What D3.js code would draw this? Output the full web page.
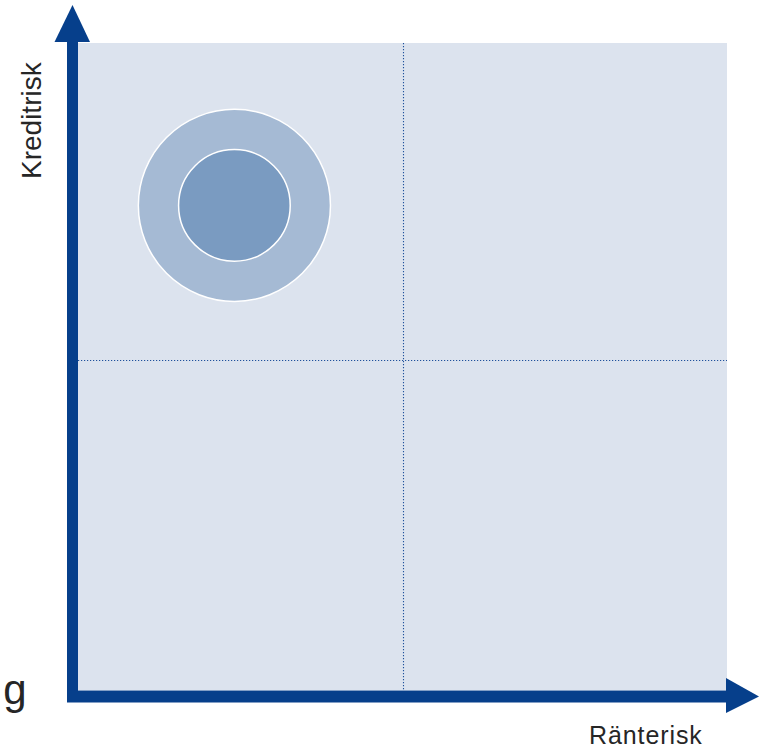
<!DOCTYPE html>
<html>
<head>
<meta charset="utf-8">
<script src="https://cdn.jsdelivr.net/npm/d3@7"></script>
<style>
  html, body { margin: 0; padding: 0; background: #ffffff; }
  svg { display: block; }
  text { font-family: "Liberation Sans", Arial, sans-serif; fill: #262626; }
</style>
</head>
<body>
<svg id="chart" width="759" height="750"></svg>
<script>
// ---- data ----
const xDomain = [0, 10];
const yDomain = [0, 10];
const xDividers = [5];
const yDividers = [5.1];
const bubbleX = [2.41];
const bubbleY = [7.49];
const bubbleOuterR = [1.48];
const bubbleInnerR = [0.86];
const xAxisLabel = "Ränterisk";
const yAxisLabel = "Kreditrisk";
const titleFragment = "g";

// ---- layout ----
const svg = d3.select("#chart");
const plot = { left: 78, right: 727, top: 43, bottom: 690 };
const x = d3.scaleLinear().domain(xDomain).range([plot.left, plot.right]);
const y = d3.scaleLinear().domain(yDomain).range([plot.bottom, plot.top]);
const r = d3.scaleLinear().domain([0, 10]).range([0, plot.right - plot.left]);

const axisColor = "#063f8b";

// background
svg.append("rect")
  .attr("x", x(xDomain[0])).attr("y", y(yDomain[1]))
  .attr("width", x(xDomain[1]) - x(xDomain[0]))
  .attr("height", y(yDomain[0]) - y(yDomain[1]))
  .attr("fill", "#dce3ee");

// dividers
svg.selectAll(".vdiv").data(xDividers).join("line")
  .attr("x1", d => Math.round(x(d)) + 0.5).attr("x2", d => Math.round(x(d)) + 0.5)
  .attr("y1", y(yDomain[1])).attr("y2", y(yDomain[0]))
  .attr("stroke", "#1f519c").attr("stroke-width", 1.1).attr("stroke-dasharray", "1.2,1.8");
svg.selectAll(".hdiv").data(yDividers).join("line")
  .attr("y1", d => Math.round(y(d)) + 0.5).attr("y2", d => Math.round(y(d)) + 0.5)
  .attr("x1", x(xDomain[0])).attr("x2", x(xDomain[1]))
  .attr("stroke", "#1f519c").attr("stroke-width", 1.1).attr("stroke-dasharray", "1.2,1.8");

// bubble
const bubbles = bubbleX.map((bx, i) => ({ x: bx, y: bubbleY[i], ro: bubbleOuterR[i], ri: bubbleInnerR[i] }));
svg.selectAll(".outer").data(bubbles).join("circle")
  .attr("cx", d => x(d.x)).attr("cy", d => y(d.y)).attr("r", d => r(d.ro))
  .attr("fill", "#a5bad4").attr("stroke", "#ffffff").attr("stroke-width", 1.5);
svg.selectAll(".inner").data(bubbles).join("circle")
  .attr("cx", d => x(d.x)).attr("cy", d => y(d.y)).attr("r", d => r(d.ri))
  .attr("fill", "#7a9bc1").attr("stroke", "#ffffff").attr("stroke-width", 1.5);

// axes (thick arrows)
const x0 = x(xDomain[0]);
const y0 = y(yDomain[0]);
svg.append("rect").attr("x", x0 - 11).attr("y", 41).attr("width", 11).attr("height", y0 + 12 - 41)
  .attr("fill", axisColor);
svg.append("rect").attr("x", x0 - 11).attr("y", y0 + 0.5).attr("width", 727 - (x0 - 11)).attr("height", 12)
  .attr("fill", axisColor);
svg.append("path")
  .attr("d", `M${x0 - 23.5},42 L${x0 - 5.5},5 L${x0 + 12},42 Z`)
  .attr("fill", axisColor);
svg.append("path")
  .attr("d", `M726,678 L759,696.5 L726,713 Z`)
  .attr("fill", axisColor);

// labels
svg.append("text")
  .attr("x", 589).attr("y", 744)
  .attr("font-size", 25).attr("letter-spacing", 0.9)
  .text(xAxisLabel);
svg.append("text")
  .attr("transform", "translate(41,179) rotate(-90)")
  .attr("font-size", 28)
  .text(yAxisLabel);
svg.append("text")
  .attr("x", 26.5).attr("y", 704)
  .attr("text-anchor", "end")
  .attr("font-size", 42)
  .text(titleFragment);
</script>
</body>
</html>
